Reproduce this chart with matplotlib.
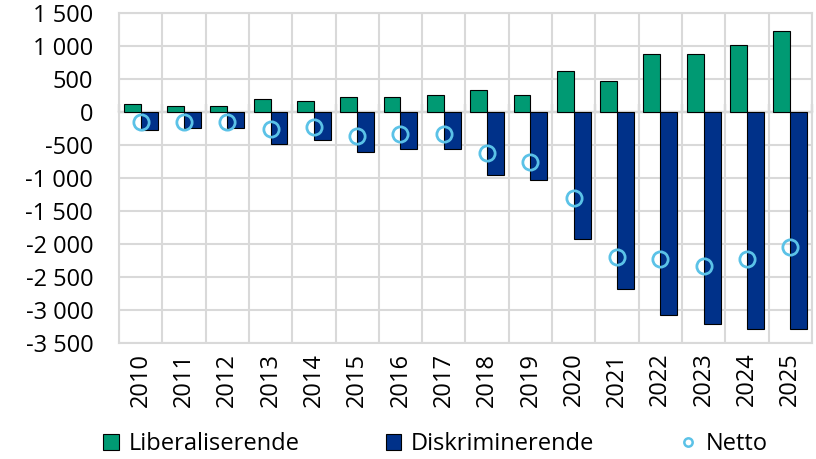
import numpy as np
import matplotlib
matplotlib.use("Agg")
import matplotlib.pyplot as plt
from matplotlib.ticker import FuncFormatter, MultipleLocator
from matplotlib.lines import Line2D
from matplotlib.patches import Patch

years = [str(y) for y in range(2010, 2026)]
liberaliserende = [120, 85, 85, 190, 160, 225, 225, 265, 335, 260, 620, 475, 875, 875, 1015, 1230]
diskriminerende = [-270, -240, -240, -490, -420, -600, -560, -560, -950, -1025, -1925, -2675, -3070, -3215, -3290, -3290]
netto = [-150, -150, -150, -260, -220, -360, -330, -330, -615, -760, -1300, -2190, -2230, -2340, -2230, -2050]

green = "#009A73"
navy = "#003189"
light = "#5BC2E7"
grid_col = "#D9D9D9"

plt.rcParams["font.family"] = ["Open Sans", "DejaVu Sans"]

fig = plt.figure(figsize=(8.16, 4.59), dpi=100)
ax = fig.add_axes([0.1458, 0.2527, 0.8492, 0.719])

x = np.arange(len(years))
w = 0.39
ax.bar(x - w / 2, liberaliserende, w, color=green, edgecolor="black", linewidth=0.8, zorder=3)
ax.bar(x + w / 2, diskriminerende, w, color=navy, edgecolor="black", linewidth=0.8, zorder=3)
ax.plot(x, netto, linestyle="none", marker="o", ms=11, mfc="none", mec=light, mew=2, zorder=5)

ax.set_xlim(-0.5, len(years) - 0.5)
ax.set_ylim(-3500, 1500)
ax.yaxis.set_major_locator(MultipleLocator(500))
ax.yaxis.set_major_formatter(FuncFormatter(lambda v, p: f"{v:,.0f}".replace(",", " ")))
ax.set_xticks(x)
ax.set_xticklabels(years, rotation=90)
ax.set_xticks(np.arange(-0.5, len(years)), minor=True)
ax.tick_params(axis="both", which="both", length=0, labelsize=17)
ax.tick_params(axis="y", pad=18.5)
ax.tick_params(axis="x", pad=7)

ax.grid(axis="y", which="major", color=grid_col, linewidth=1.5, zorder=0)
ax.grid(axis="x", which="minor", color=grid_col, linewidth=1.5, zorder=0)
for s in ax.spines.values():
    s.set_color(grid_col)
    s.set_linewidth(1.5)

# zero line with tick marks at the category boundaries
zero = ax.secondary_xaxis(0, transform=ax.transData)
zero.set_xticks(np.arange(-0.5, len(years)))
zero.tick_params(direction="in", length=6, width=1.5, color="#404040", labelbottom=False, labeltop=False)
zero.spines["bottom"].set_color("#404040")
zero.spines["bottom"].set_linewidth(1.5)
zero.spines["bottom"].set_zorder(4)

handles = [
    Patch(facecolor=green, edgecolor="black", linewidth=0.8),
    Patch(facecolor=navy, edgecolor="black", linewidth=0.8),
    Line2D([], [], linestyle="none", marker="o", ms=6, mfc="none", mec=light, mew=1.8),
]
fig.legend(handles, ["Liberaliserende", "Diskriminerende", "Netto"], loc="center",
           bbox_to_anchor=(0.534, 0.032), ncol=3, frameon=False, fontsize=17,
           handlelength=0.65, handleheight=0.65, handletextpad=0.42, columnspacing=3.65)

fig.savefig("out.png", dpi=100)
